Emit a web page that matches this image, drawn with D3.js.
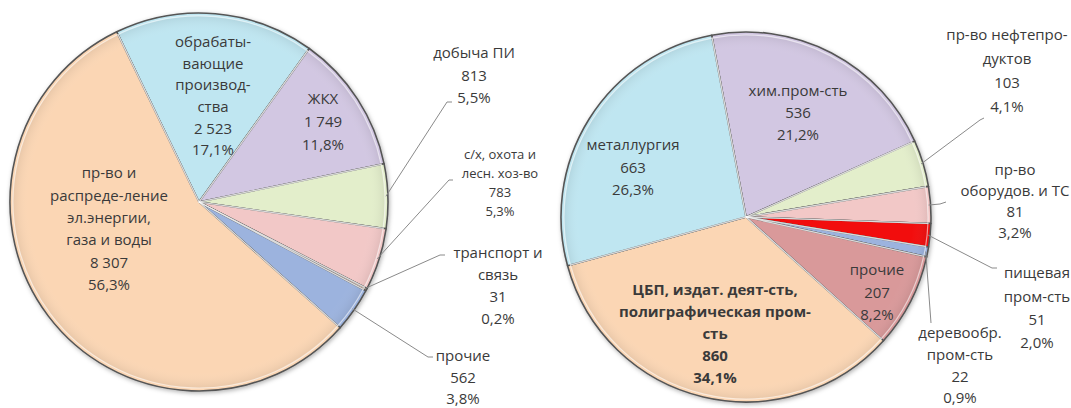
<!DOCTYPE html>
<html>
<head>
<meta charset="utf-8">
<script src="https://cdn.jsdelivr.net/npm/d3@7"></script>
<style>
  body { margin: 0; background: #fff; }
  svg { display: block; }
  .lbl { font-family: 'Open Sans', sans-serif; fill: #3a3a3a; }
  .leader { fill: none; stroke: #8a8a8a; stroke-width: 1; }
</style>
</head>
<body>
<svg width="1071" height="408"></svg>
<script>
// left pie: whole industry
const leftCats = [
  ['обрабаты-', 'вающие', 'производ-', 'ства'],
  ['ЖКХ'],
  ['добыча ПИ'],
  ['с/х, охота и', 'лесн. хоз-во'],
  ['транспорт и', 'связь'],
  ['прочие'],
  ['пр-во и', 'распреде-ление', 'эл.энергии,', 'газа и воды']
];
const leftValues = [2523, 1749, 813, 783, 31, 562, 8307];
const leftPcts = ['17,1%', '11,8%', '5,5%', '5,3%', '0,2%', '3,8%', '56,3%'];
const leftColors = ['#bfe6f1', '#d2c7e2', '#e3eecb', '#f2c8c7', '#f3cdb8', '#9cb3de', '#fbd6b4'];

// right pie: manufacturing breakdown
const rightCats = [
  ['хим.пром-сть'],
  ['пр-во нефтепро-', 'дуктов'],
  ['пр-во', 'оборудов.  и ТС'],
  ['пищевая', 'пром-сть'],
  ['деревообр.', 'пром-сть'],
  ['прочие'],
  ['ЦБП, издат. деят-сть,', 'полиграфическая пром-', 'сть'],
  ['металлургия']
];
const rightValues = [536, 103, 81, 51, 22, 207, 860, 663];
const rightPcts = ['21,2%', '4,1%', '3,2%', '2,0%', '0,9%', '8,2%', '34,1%', '26,3%'];
const rightColors = ['#d2c7e2', '#e3eecb', '#f2c8c7', '#f20c0c', '#9cb3de', '#d9999a', '#fbd6b4', '#bfe6f1'];

const svg = d3.select('svg');
const fmt = d3.formatLocale({ decimal: ',', thousands: '\u00a0', grouping: [3], currency: ['', ''] }).format(',d');
const deg = Math.PI / 180;

const defs = svg.append('defs');
const shadow = defs.append('filter').attr('id', 'sh').attr('x', '-10%').attr('y', '-10%').attr('width', '120%').attr('height', '120%');
shadow.append('feDropShadow').attr('dx', 1).attr('dy', 1.5).attr('stdDeviation', 2).attr('flood-color', '#000').attr('flood-opacity', 0.3);

function drawPie(cfg) {
  const pie = d3.pie().sort(null).value(d => d)
    .startAngle(cfg.start * deg).endAngle(cfg.start * deg + 2 * Math.PI);
  const arcs = pie(cfg.values);
  const arc = d3.arc().innerRadius(0).outerRadius(cfg.r);
  const inner = d3.arc().innerRadius(0).outerRadius(cfg.r - 3);

  const shade = defs.append('radialGradient').attr('id', cfg.id)
    .attr('gradientUnits', 'userSpaceOnUse').attr('cx', 0).attr('cy', 0).attr('r', cfg.r);
  shade.append('stop').attr('offset', '0%').attr('stop-color', '#fff').attr('stop-opacity', 0);
  shade.append('stop').attr('offset', '90%').attr('stop-color', '#fff').attr('stop-opacity', 0);
  shade.append('stop').attr('offset', '100%').attr('stop-color', '#000').attr('stop-opacity', 0.1);

  const g = svg.append('g').attr('transform', `translate(${cfg.cx},${cfg.cy})`);
  const sl = g.append('g').attr('filter', 'url(#sh)');
  sl.selectAll('path.slice').data(arcs).join('path')
    .attr('class', 'slice')
    .attr('d', arc)
    .attr('fill', (d, i) => cfg.colors[i])
    .attr('stroke', '#555')
    .attr('stroke-width', 1.6)
    .attr('stroke-linejoin', 'round');
  // bevel highlight
  g.selectAll('path.hl').data(arcs).join('path')
    .attr('class', 'hl')
    .attr('d', inner)
    .attr('fill', `url(#${cfg.id})`)
    .attr('stroke', '#fff')
    .attr('stroke-opacity', 0.55)
    .attr('stroke-width', 1.2);

  // leader lines
  arcs.forEach((d, i) => {
    const lay = cfg.layout[i];
    if (!lay.leader) return;
    const a = (d.startAngle + d.endAngle) / 2;
    const p0 = [cfg.cx + (cfg.r - 2) * Math.sin(a), cfg.cy - (cfg.r - 2) * Math.cos(a)];
    svg.append('path').attr('class', 'leader')
      .attr('d', d3.line()([p0].concat(lay.leader)));
  });

  // labels
  arcs.forEach((d, i) => {
    const lay = cfg.layout[i];
    const lines = cfg.cats[i].concat([fmt(cfg.values[i]), cfg.pcts[i]]);
    const t = svg.append('text').attr('class', 'lbl')
      .attr('text-anchor', 'middle')
      .style('font-size', (lay.fs || 15) + 'px')
      .style('font-weight', lay.bold ? 700 : 400);
    lines.forEach((s, k) => {
      t.append('tspan').attr('x', lay.x).attr('y', lay.y + k * lay.lh + (lay.fs || 15) * 0.35).text(s);
    });
  });
}

drawPie({
  id: 'shL', cx: 199, cy: 202, r: 189, start: -25.8,
  values: leftValues, cats: leftCats, pcts: leftPcts, colors: leftColors,
  layout: [
    { x: 213, y: 42, lh: 21.6 },
    { x: 323, y: 99, lh: 23 },
    { x: 474, y: 53, lh: 22.5, leader: [[447, 102], [452, 102]] },
    { x: 500, y: 154, lh: 19.3, fs: 13, leader: [[449, 180], [453, 180]] },
    { x: 498, y: 253, lh: 22, leader: [[440, 255], [445, 255]] },
    { x: 463, y: 356, lh: 21.5, leader: [[428, 357], [433, 357]] },
    { x: 109, y: 173, lh: 22.4 }
  ]
});

drawPie({
  id: 'shR', cx: 746, cy: 217, r: 185, start: -10.7,
  values: rightValues, cats: rightCats, pcts: rightPcts, colors: rightColors,
  layout: [
    { x: 798, y: 91, lh: 22 },
    { x: 1007, y: 35, lh: 24, leader: [[980, 120], [984, 118]] },
    { x: 1015, y: 170, lh: 21, leader: [[940, 204], [946, 202]] },
    { x: 1037, y: 273, lh: 23.3, leader: [[992, 268], [997, 268]] },
    { x: 960, y: 333, lh: 21.7, leader: [[931, 323]] },
    { x: 877, y: 270, lh: 22.5 },
    { x: 715, y: 290, lh: 22, bold: true },
    { x: 633, y: 145, lh: 22.5 }
  ]
});
</script>
</body>
</html>
